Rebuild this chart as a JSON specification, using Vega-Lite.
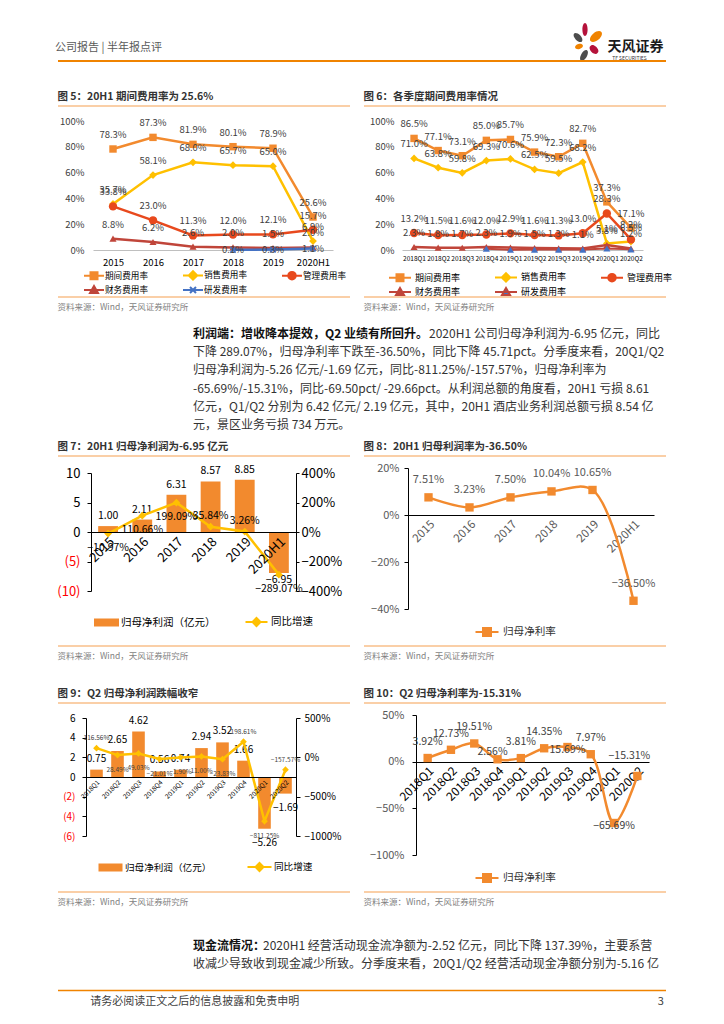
{
"$schema":"https://vega.github.io/schema/vega-lite/v6.json",
"padding":0,
"background":"white",
"config":{"font":"Noto Sans CJK SC","view":{"stroke":null},"axis":{"grid":false},"title":{"anchor":"start"}},
"datasets":{
"f5":[
{"s":"期间费用率","x":"2015","v":0.783},{"s":"期间费用率","x":"2016","v":0.873},{"s":"期间费用率","x":"2017","v":0.819},{"s":"期间费用率","x":"2018","v":0.801},{"s":"期间费用率","x":"2019","v":0.789},{"s":"期间费用率","x":"2020H1","v":0.256},
{"s":"销售费用率","x":"2015","v":0.357},{"s":"销售费用率","x":"2016","v":0.581},{"s":"销售费用率","x":"2017","v":0.680},{"s":"销售费用率","x":"2018","v":0.657},{"s":"销售费用率","x":"2019","v":0.650},{"s":"销售费用率","x":"2020H1","v":0.069},
{"s":"管理费用率","x":"2015","v":0.338},{"s":"管理费用率","x":"2016","v":0.230},{"s":"管理费用率","x":"2017","v":0.113},{"s":"管理费用率","x":"2018","v":0.120},{"s":"管理费用率","x":"2019","v":0.121},{"s":"管理费用率","x":"2020H1","v":0.157},
{"s":"财务费用率","x":"2015","v":0.088},{"s":"财务费用率","x":"2016","v":0.062},{"s":"财务费用率","x":"2017","v":0.026},{"s":"财务费用率","x":"2018","v":0.020},{"s":"财务费用率","x":"2019","v":0.015},{"s":"财务费用率","x":"2020H1","v":0.020},
{"s":"研发费用率","x":"2018","v":0.001},{"s":"研发费用率","x":"2019","v":0.003},{"s":"研发费用率","x":"2020H1","v":0.011}
],
"f6":[
{"s":"期间费用率","x":"2018Q1","v":0.865},{"s":"期间费用率","x":"2018Q2","v":0.771},{"s":"期间费用率","x":"2018Q3","v":0.731},{"s":"期间费用率","x":"2018Q4","v":0.850},{"s":"期间费用率","x":"2019Q1","v":0.857},{"s":"期间费用率","x":"2019Q2","v":0.759},{"s":"期间费用率","x":"2019Q3","v":0.723},{"s":"期间费用率","x":"2019Q4","v":0.827},{"s":"期间费用率","x":"2020Q1","v":0.373},{"s":"期间费用率","x":"2020Q2","v":0.171},
{"s":"销售费用率","x":"2018Q1","v":0.710},{"s":"销售费用率","x":"2018Q2","v":0.638},{"s":"销售费用率","x":"2018Q3","v":0.598},{"s":"销售费用率","x":"2018Q4","v":0.693},{"s":"销售费用率","x":"2019Q1","v":0.706},{"s":"销售费用率","x":"2019Q2","v":0.625},{"s":"销售费用率","x":"2019Q3","v":0.595},{"s":"销售费用率","x":"2019Q4","v":0.682},{"s":"销售费用率","x":"2020Q1","v":0.051},{"s":"销售费用率","x":"2020Q2","v":0.065},
{"s":"管理费用率","x":"2018Q1","v":0.132},{"s":"管理费用率","x":"2018Q2","v":0.115},{"s":"管理费用率","x":"2018Q3","v":0.116},{"s":"管理费用率","x":"2018Q4","v":0.120},{"s":"管理费用率","x":"2019Q1","v":0.129},{"s":"管理费用率","x":"2019Q2","v":0.116},{"s":"管理费用率","x":"2019Q3","v":0.113},{"s":"管理费用率","x":"2019Q4","v":0.130},{"s":"管理费用率","x":"2020Q1","v":0.283},{"s":"管理费用率","x":"2020Q2","v":0.082},
{"s":"财务费用率","x":"2018Q1","v":0.023},{"s":"财务费用率","x":"2018Q2","v":0.018},{"s":"财务费用率","x":"2018Q3","v":0.017},{"s":"财务费用率","x":"2018Q4","v":0.023},{"s":"财务费用率","x":"2019Q1","v":0.019},{"s":"财务费用率","x":"2019Q2","v":0.015},{"s":"财务费用率","x":"2019Q3","v":0.013},{"s":"财务费用率","x":"2019Q4","v":0.011},{"s":"财务费用率","x":"2020Q1","v":0.038},{"s":"财务费用率","x":"2020Q2","v":0.012},
{"s":"研发费用率","x":"2018Q4","v":0.010},{"s":"研发费用率","x":"2019Q1","v":0.002},{"s":"研发费用率","x":"2019Q2","v":0.003},{"s":"研发费用率","x":"2019Q3","v":0.003},{"s":"研发费用率","x":"2019Q4","v":0.003},{"s":"研发费用率","x":"2020Q1","v":0.012},{"s":"研发费用率","x":"2020Q2","v":0.005}
],
"f7":[{"x":"2015","v":1.00,"g":-0.1097},{"x":"2016","v":2.11,"g":1.1066},{"x":"2017","v":6.31,"g":1.9909},{"x":"2018","v":8.57,"g":0.3584},{"x":"2019","v":8.85,"g":0.0326},{"x":"2020H1","v":-6.95,"g":-2.8907}],
"f8":[{"x":"2015","v":0.0751},{"x":"2016","v":0.0323},{"x":"2017","v":0.0750},{"x":"2018","v":0.1004},{"x":"2019","v":0.1065},{"x":"2020H1","v":-0.3650}],
"f9":[{"x":"2018Q1","v":0.75,"g":1.1656},{"x":"2018Q2","v":2.65,"g":0.2849},{"x":"2018Q3","v":4.62,"g":0.4903},{"x":"2018Q4","v":0.56,"g":-0.2101},{"x":"2019Q1","v":0.74,"g":-0.0190},{"x":"2019Q2","v":2.94,"g":0.1100},{"x":"2019Q3","v":3.52,"g":-0.2383},{"x":"2019Q4","v":1.66,"g":1.9861},{"x":"2020Q1","v":-5.26,"g":-8.1125},{"x":"2020Q2","v":-1.69,"g":-1.5757}],
"f10":[{"x":"2018Q1","v":0.0392},{"x":"2018Q2","v":0.1273},{"x":"2018Q3","v":0.1951},{"x":"2018Q4","v":0.0256},{"x":"2019Q1","v":0.0381},{"x":"2019Q2","v":0.1435},{"x":"2019Q3","v":0.1569},{"x":"2019Q4","v":0.0797},{"x":"2020Q1","v":-0.6569},{"x":"2020Q2","v":-0.1531}],
"p1b":[{"n":1,"t":"利润端：增收降本提效，Q2 业绩有所回升。"}],
"p1":[{"n":1,"t":"2020H1 公司归母净利润为-6.95 亿元，同比"},{"n":2,"t":"下降 289.07%，归母净利率下跌至-36.50%，同比下降 45.71pct。分季度来看，20Q1/Q2"},{"n":3,"t":"归母净利润为-5.26  亿元/-1.69  亿元，同比-811.25%/-157.57%，归母净利率为"},{"n":4,"t":"-65.69%/-15.31%，同比-69.50pct/ -29.66pct。从利润总额的角度看，20H1 亏损 8.61"},{"n":5,"t":"亿元，Q1/Q2 分别为 6.42 亿元/ 2.19 亿元，其中，20H1 酒店业务利润总额亏损 8.54 亿"},{"n":6,"t":"元，景区业务亏损 734 万元。"}],
"p2b":[{"n":1,"t":"现金流情况："}],
"p2":[{"n":1,"t":"2020H1 经营活动现金流净额为-2.52 亿元，同比下降 137.39%，主要系营"},{"n":2,"t":"收减少导致收到现金减少所致。分季度来看，20Q1/Q2 经营活动现金净额分别为-5.16 亿"}]
},
"spacing":0,"bounds":"flush",
"resolve":{"scale":{"fill":"independent","stroke":"independent","shape":"independent"}},
"hconcat":[
{"width":57,"height":1024,"data":{"values":[{}]},"mark":{"type":"rule","opacity":0},"encoding":{}},
{"spacing":0,"bounds":"flush","resolve":{"scale":{"fill":"independent","stroke":"independent","shape":"independent"}},"vconcat":[
 {"width":608,"height":20,"data":{"values":[{}]},"mark":{"type":"rule","opacity":0},"encoding":{}},
 {"spacing":0,"bounds":"flush","hconcat":[
  {"width":513,"height":40,"data":{"values":[{}]},"mark":{"type":"rule","opacity":0},"encoding":{}},
  {"width":95,"height":40,"data":{"values":[{}]},"layer":[
   {"mark":{"type":"point","shape":"M-33.5,-18A2.6,6.5,0,1,0,-33.5,-5A2.6,6.5,0,1,0,-33.5,-18Z M-28,5A5,3,45,1,0,-21,12A5,3,45,1,0,-28,5Z","size":4,"filled":true,"color":"#B5123A","opacity":1},"encoding":{}},
   {"mark":{"type":"point","shape":"M-44.4,-7.4A5.5,3,45,1,0,-36.6,0.4A5.5,3,45,1,0,-44.4,-7.4Z M-37.5,19.7A6,3,-60,1,0,-31.5,9.3A6,3,-60,1,0,-37.5,19.7Z","size":4,"filled":true,"color":"#4D4D4D","opacity":1},"encoding":{}},
   {"mark":{"type":"point","shape":"M-27.9,0A7,4,-40,1,0,-17.1,-9A7,4,-40,1,0,-27.9,0Z M-43.4,6.5A4,2.5,-15,1,0,-35.6,4.5A4,2.5,-15,1,0,-43.4,6.5Z","size":4,"filled":true,"color":"#F08300","opacity":1},"encoding":{}},
   {"mark":{"type":"text","text":"天风证券","dx":17,"dy":6,"fontSize":14,"fontWeight":"bold","color":"#1A1A1A"},"encoding":{}},
   {"mark":{"type":"text","text":"TF SECURITIES","dx":11,"dy":17,"fontSize":5,"color":"#333333"},"encoding":{}}
  ]}
 ]},
 {"width":608,"height":40,"data":{"values":[{}]},"mark":{"type":"rule","opacity":0},"encoding":{}},
 {"width":608,"height":45,"data":{"values":[{}]},"mark":{"type":"rule","color":"#F08300","strokeWidth":2},"encoding":{"y":{"datum":1,"type":"quantitative","scale":{"domain":[0,1]},"axis":null}},"title":{"text":"公司报告 | 半年报点评","orient":"top","anchor":"start","offset":7,"dx":-2,"fontSize":11,"fontWeight":"normal","color":"#595959"}},
 {"spacing":0,"bounds":"flush","resolve":{"scale":{"fill":"independent","stroke":"independent","shape":"independent"}},"hconcat":[
  {"spacing":0,"bounds":"flush","resolve":{"scale":{"fill":"independent","stroke":"independent","shape":"independent"}},"vconcat":[
   {"width":292,"height":15,"data":{"values":[{}]},"mark":{"type":"rule","color":"#F5A050","strokeWidth":1.2},"encoding":{"y":{"datum":1,"type":"quantitative","scale":{"domain":[0,1]},"axis":null}},"title":{"text":"图 5：20H1 期间费用率为 25.6%","orient":"top","anchor":"start","offset":3,"fontSize":10.5,"fontWeight":"bold","color":"#333333"}},
   {"spacing":0,"bounds":"flush","resolve":{"scale":{"fill":"independent","stroke":"independent","shape":"independent"}},"hconcat":[
    {"width":35,"height":129,"data":{"values":[{}]},"mark":{"type":"rule","opacity":0},"encoding":{}},
    {"width":240,"height":129,"data":{"name":"f5"},
     "encoding":{
      "x":{"field":"x","type":"nominal","scale":{"domain":["2015","2016","2017","2018","2019","2020H1"]},"axis":{"title":null,"labelAngle":0,"labelFontSize":9.5,"labelColor":"#000000","domainColor":"#BFBFBF","ticks":false,"labelPadding":7}},
      "y":{"field":"v","type":"quantitative","scale":{"domain":[0,1],"nice":false},"axis":{"title":null,"values":[0,0.2,0.4,0.6,0.8,1],"format":".0%","domain":false,"ticks":false,"labelPadding":9,"labelFontSize":9.5,"labelColor":"#404040"}}
     },
     "layer":[
      {"transform":[{"filter":"datum.s==='期间费用率'"}],"mark":{"type":"line","color":"#F28A2E","strokeWidth":2.5,"point":{"shape":"square","filled":true,"size":55,"color":"#F28A2E","opacity":1}}},
      {"transform":[{"filter":"datum.s==='销售费用率'"}],"mark":{"type":"line","color":"#FFC000","strokeWidth":2.5,"point":{"shape":"diamond","filled":true,"size":60,"color":"#FFC000","opacity":1}}},
      {"transform":[{"filter":"datum.s==='管理费用率'"}],"mark":{"type":"line","color":"#E8491D","strokeWidth":2.5,"point":{"shape":"circle","filled":true,"size":70,"color":"#E8491D","opacity":1}}},
      {"transform":[{"filter":"datum.s==='财务费用率'"}],"mark":{"type":"line","color":"#C0453A","strokeWidth":2.5,"point":{"shape":"triangle-up","filled":true,"size":50,"color":"#C0453A","opacity":1}}},
      {"transform":[{"filter":"datum.s==='研发费用率'"}],"mark":{"type":"line","color":"#4472C4","strokeWidth":2.5,"point":{"shape":"M-1,-1L1,1M-1,1L1,-1","filled":false,"size":30,"strokeWidth":1.5,"color":"#4472C4","opacity":1}}},
      {"transform":[{"filter":"datum.s!=='研发费用率'"}],"mark":{"type":"text","dy":-14,"fontSize":9.5,"color":"#404040"},"encoding":{"text":{"field":"v","format":".1%"}}},
      {"transform":[{"filter":"datum.s==='研发费用率'"}],"mark":{"type":"text","dy":0,"fontSize":9.5,"color":"#404040"},"encoding":{"text":{"field":"v","format":".1%"}}},
      {"data":{"values":[]},"mark":{"type":"point","strokeWidth":2,"opacity":1},"encoding":{
       "fill":{"field":"s","type":"nominal","scale":{"domain":["期间费用率","销售费用率","管理费用率","财务费用率","研发费用率"],"range":["#F28A2E","#FFC000","#E8491D","#C0453A","#4472C4"]},"legend":{"title":null,"orient":"none","direction":"horizontal","legendX":-5,"legendY":148,"columns":3,"columnPadding":31,"rowPadding":-12,"symbolSize":100,"symbolStrokeWidth":2,"labelFontSize":8.6,"labelOffset":5,"labelColor":"#000000"}},
       "stroke":{"field":"s","type":"nominal","scale":{"domain":["期间费用率","销售费用率","管理费用率","财务费用率","研发费用率"],"range":["#F28A2E","#FFC000","#E8491D","#C0453A","#4472C4"]},"legend":{"title":null,"orient":"none","direction":"horizontal","legendX":-5,"legendY":148,"columns":3,"columnPadding":31,"rowPadding":-12,"symbolSize":100,"symbolStrokeWidth":2,"labelFontSize":8.6,"labelOffset":5,"labelColor":"#000000"}},
       "shape":{"field":"s","type":"nominal","scale":{"domain":["期间费用率","销售费用率","管理费用率","财务费用率","研发费用率"],"range":["M-2,0H2M-0.7,-0.7H0.7V0.7H-0.7Z","M-2,0H2M0,-0.85L0.85,0L0,0.85L-0.85,0Z","M-2,0H2M-0.75,0A0.75,0.75,0,1,0,0.75,0A0.75,0.75,0,1,0,-0.75,0Z","M-2,0H2M0,-0.8L0.8,0.6L-0.8,0.6Z","M-2,0H2M-0.6,-0.6L0.6,0.6M-0.6,0.6L0.6,-0.6"]},"legend":{"title":null,"orient":"none","direction":"horizontal","legendX":-5,"legendY":148,"columns":3,"columnPadding":31,"rowPadding":-12,"symbolSize":100,"symbolStrokeWidth":2,"labelFontSize":8.6,"labelOffset":5,"labelColor":"#000000"}}
      }}
     ]}
   ]},
   {"width":292,"height":129,"data":{"values":[{}]},"mark":{"type":"rule","opacity":0},"encoding":{}},
   {"width":292,"height":47,"data":{"values":[{}]},"mark":{"type":"rule","color":"#F5A050","strokeWidth":1.2},"encoding":{"y":{"datum":0,"type":"quantitative","scale":{"domain":[0,1]},"axis":null}},"title":{"text":"资料来源：Wind，天风证券研究所","orient":"bottom","anchor":"start","offset":5,"fontSize":8.5,"fontWeight":"normal","color":"#7F7F7F"}}
  ]},
  {"width":306,"height":1,"data":{"values":[{}]},"mark":{"type":"rule","opacity":0},"encoding":{}},
  {"spacing":0,"bounds":"flush","resolve":{"scale":{"fill":"independent","stroke":"independent","shape":"independent"}},"vconcat":[
   {"width":302,"height":15,"data":{"values":[{}]},"mark":{"type":"rule","color":"#F5A050","strokeWidth":1.2},"encoding":{"y":{"datum":1,"type":"quantitative","scale":{"domain":[0,1]},"axis":null}},"title":{"text":"图 6：各季度期间费用率情况","orient":"top","anchor":"start","offset":3,"fontSize":10.5,"fontWeight":"bold","color":"#333333"}},
   {"spacing":0,"bounds":"flush","resolve":{"scale":{"fill":"independent","stroke":"independent","shape":"independent"}},"hconcat":[
    {"width":38,"height":129,"data":{"values":[{}]},"mark":{"type":"rule","opacity":0},"encoding":{}},
    {"width":241,"height":129,"data":{"name":"f6"},
     "encoding":{
      "x":{"field":"x","type":"nominal","scale":{"domain":["2018Q1","2018Q2","2018Q3","2018Q4","2019Q1","2019Q2","2019Q3","2019Q4","2020Q1","2020Q2"]},"axis":{"title":null,"labelAngle":0,"labelFontSize":6.5,"labelColor":"#000000","domainColor":"#BFBFBF","ticks":false,"labelPadding":5}},
      "y":{"field":"v","type":"quantitative","scale":{"domain":[0,1],"nice":false},"axis":{"title":null,"values":[0,0.2,0.4,0.6,0.8,1],"format":".0%","domain":false,"ticks":false,"labelPadding":8,"labelFontSize":9.5,"labelColor":"#404040"}}
     },
     "layer":[
      {"transform":[{"filter":"datum.s==='期间费用率'"}],"mark":{"type":"line","color":"#F28A2E","strokeWidth":2.5,"point":{"shape":"square","filled":true,"size":55,"color":"#F28A2E","opacity":1}}},
      {"transform":[{"filter":"datum.s==='销售费用率'"}],"mark":{"type":"line","color":"#FFC000","strokeWidth":2.5,"point":{"shape":"diamond","filled":true,"size":60,"color":"#FFC000","opacity":1}}},
      {"transform":[{"filter":"datum.s==='管理费用率'"}],"mark":{"type":"line","color":"#E8491D","strokeWidth":2.5,"point":{"shape":"circle","filled":true,"size":70,"color":"#E8491D","opacity":1}}},
      {"transform":[{"filter":"datum.s==='财务费用率'"}],"mark":{"type":"line","color":"#C0453A","strokeWidth":2.5,"point":{"shape":"triangle-up","filled":true,"size":50,"color":"#C0453A","opacity":1}}},
      {"transform":[{"filter":"datum.s==='研发费用率'"}],"mark":{"type":"line","color":"#C0453A","strokeWidth":2,"point":{"shape":"triangle-up","filled":true,"size":50,"color":"#4472C4","opacity":1}}},
      {"transform":[{"filter":"datum.s!=='研发费用率'"}],"mark":{"type":"text","dy":-14,"fontSize":9.5,"color":"#404040"},"encoding":{"text":{"field":"v","format":".1%"}}},
      {"data":{"values":[]},"mark":{"type":"point","strokeWidth":2,"opacity":1},"encoding":{
       "fill":{"field":"s","type":"nominal","scale":{"domain":["期间费用率","销售费用率","管理费用率","财务费用率","研发费用率"],"range":["#F28A2E","#FFC000","#E8491D","#C0453A","#4472C4"]},"legend":{"title":null,"orient":"none","direction":"horizontal","legendX":-8,"legendY":150,"columns":3,"columnPadding":30,"rowPadding":-13,"symbolSize":100,"symbolStrokeWidth":2,"labelFontSize":9,"labelOffset":9,"labelColor":"#000000"}},
       "stroke":{"field":"s","type":"nominal","scale":{"domain":["期间费用率","销售费用率","管理费用率","财务费用率","研发费用率"],"range":["#F28A2E","#FFC000","#E8491D","#C0453A","#C0453A"]},"legend":{"title":null,"orient":"none","direction":"horizontal","legendX":-8,"legendY":150,"columns":3,"columnPadding":30,"rowPadding":-13,"symbolSize":100,"symbolStrokeWidth":2,"labelFontSize":9,"labelOffset":9,"labelColor":"#000000"}},
       "shape":{"field":"s","type":"nominal","scale":{"domain":["期间费用率","销售费用率","管理费用率","财务费用率","研发费用率"],"range":["M-2.2,0H2.2M-0.7,-0.7H0.7V0.7H-0.7Z","M-2.2,0H2.2M0,-0.85L0.85,0L0,0.85L-0.85,0Z","M-2.2,0H2.2M-0.75,0A0.75,0.75,0,1,0,0.75,0A0.75,0.75,0,1,0,-0.75,0Z","M-2.2,0H2.2M0,-0.8L0.8,0.6L-0.8,0.6Z","M-2.2,0H2.2M0,-0.8L0.8,0.6L-0.8,0.6Z"]},"legend":{"title":null,"orient":"none","direction":"horizontal","legendX":-8,"legendY":150,"columns":3,"columnPadding":30,"rowPadding":-13,"symbolSize":100,"symbolStrokeWidth":2,"labelFontSize":9,"labelOffset":9,"labelColor":"#000000"}}
      }}
     ]}
   ]},
   {"width":302,"height":129,"data":{"values":[{}]},"mark":{"type":"rule","opacity":0},"encoding":{}},
   {"width":302,"height":47,"data":{"values":[{}]},"mark":{"type":"rule","color":"#F5A050","strokeWidth":1.2},"encoding":{"y":{"datum":0,"type":"quantitative","scale":{"domain":[0,1]},"axis":null}},"title":{"text":"资料来源：Wind，天风证券研究所","orient":"bottom","anchor":"start","offset":5,"fontSize":8.5,"fontWeight":"normal","color":"#7F7F7F"}}
  ]}
 ]},
 {"width":608,"height":219,"data":{"values":[{}]},"mark":{"type":"rule","opacity":0},"encoding":{}},
 {"spacing":0,"bounds":"flush","hconcat":[
  {"width":135,"height":109,"data":{"values":[{}]},"mark":{"type":"rule","opacity":0},"encoding":{}},
  {"width":473,"height":109,"data":{"name":"p1"},
   "encoding":{"y":{"field":"n","type":"ordinal","scale":{"domain":[1,2,3,4,5,6]},"axis":null},"x":{"datum":0,"type":"quantitative","scale":{"domain":[0,1]},"axis":null}},
   "layer":[
    {"data":{"name":"p1b"},"mark":{"type":"text","align":"left","fontWeight":"bold","fontSize":12,"color":"#111111"},"encoding":{"text":{"field":"t"}}},
    {"transform":[{"filter":"datum.n===1"}],"mark":{"type":"text","align":"left","dx":236,"fontSize":12,"color":"#333333"},"encoding":{"text":{"field":"t"}}},
    {"transform":[{"filter":"datum.n>1"}],"mark":{"type":"text","align":"left","fontSize":12,"color":"#333333"},"encoding":{"text":{"field":"t"}}}
   ]}
 ]},
 {"width":608,"height":131,"data":{"values":[{}]},"mark":{"type":"rule","opacity":0},"encoding":{}},
 {"spacing":0,"bounds":"flush","resolve":{"scale":{"fill":"independent","stroke":"independent","shape":"independent"}},"hconcat":[
  {"spacing":0,"bounds":"flush","resolve":{"scale":{"fill":"independent","stroke":"independent","shape":"independent"}},"vconcat":[
   {"width":292,"height":17,"data":{"values":[{}]},"mark":{"type":"rule","color":"#F5A050","strokeWidth":1.2},"encoding":{"y":{"datum":1,"type":"quantitative","scale":{"domain":[0,1]},"axis":null}},"title":{"text":"图 7：20H1 归母净利润为-6.95 亿元","orient":"top","anchor":"start","offset":3,"fontSize":10.5,"fontWeight":"bold","color":"#333333"}},
   {"spacing":0,"bounds":"flush","resolve":{"scale":{"fill":"independent","stroke":"independent","shape":"independent"}},"hconcat":[
    {"width":33,"height":118,"data":{"values":[{}]},"mark":{"type":"rule","opacity":0},"encoding":{}},
    {"width":205,"height":118,"data":{"name":"f7"},
     "encoding":{"x":{"field":"x","type":"nominal","scale":{"domain":["2015","2016","2017","2018","2019","2020H1"],"paddingInner":0.42,"paddingOuter":0.21},"axis":{"title":null,"offset":-59,"labelAngle":-45,"labelFontSize":13,"labelColor":"#000000","domainColor":"#000000","ticks":false,"labelPadding":3,"zindex":1}}},
     "layer":[
      {"encoding":{"y":{"field":"v","type":"quantitative","scale":{"domain":[-10,10],"nice":false},"axis":{"title":null,"values":[-10,-5,0,5,10],"labelExpr":"datum.value < 0 ? '(' + format(-datum.value,'d') + ')' : datum.label","labelColor":{"condition":{"test":"datum.value < 0","value":"#FF0000"},"value":"#000000"},"domainColor":"#000000","tickColor":"#000000","tickSize":4,"labelPadding":7,"labelFontSize":13}}},
       "layer":[
        {"mark":{"type":"bar","color":"#F28A2E"}},
        {"transform":[{"filter":"datum.v >= 0"}],"mark":{"type":"text","baseline":"bottom","dy":-5,"fontSize":10.5,"color":"#000000"},"encoding":{"text":{"field":"v","format":".2f"}}},
        {"transform":[{"filter":"datum.v < 0"}],"mark":{"type":"text","baseline":"top","dy":2,"fontSize":10.5,"color":"#000000"},"encoding":{"text":{"field":"v","format":".2f"}}},
        {"data":{"values":[]},"mark":{"type":"point","strokeWidth":2,"opacity":1},"encoding":{
         "fill":{"field":"s","type":"nominal","scale":{"domain":["归母净利润（亿元）","同比增速"],"range":["#F28A2E","#FFC000"]},"legend":{"title":null,"orient":"none","direction":"horizontal","legendX":9.5,"legendY":143,"columns":2,"columnPadding":26,"symbolSize":100,"symbolStrokeWidth":2,"labelFontSize":10.5,"labelOffset":8.5,"labelColor":"#000000"}},
         "stroke":{"field":"s","type":"nominal","scale":{"domain":["归母净利润（亿元）","同比增速"],"range":["#F28A2E","#FFC000"]},"legend":{"title":null,"orient":"none","direction":"horizontal","legendX":9.5,"legendY":143,"columns":2,"columnPadding":26,"symbolSize":100,"symbolStrokeWidth":2,"labelFontSize":10.5,"labelOffset":8.5,"labelColor":"#000000"}},
         "shape":{"field":"s","type":"nominal","scale":{"domain":["归母净利润（亿元）","同比增速"],"range":["M-2.3,-0.6H2.3V0.6H-2.3Z","M-2.2,0H2.2M0,-0.8L0.8,0L0,0.8L-0.8,0Z"]},"legend":{"title":null,"orient":"none","direction":"horizontal","legendX":9.5,"legendY":143,"columns":2,"columnPadding":26,"symbolSize":100,"symbolStrokeWidth":2,"labelFontSize":10.5,"labelOffset":8.5,"labelColor":"#000000"}}
        }}
       ]},
      {"encoding":{"y":{"field":"g","type":"quantitative","scale":{"domain":[-4,4],"nice":false},"axis":{"title":null,"orient":"right","values":[-4,-2,0,2,4],"format":".0%","domainColor":"#000000","tickColor":"#000000","tickSize":3,"labelPadding":2,"labelFontSize":13,"labelColor":"#000000"}}},
       "layer":[
        {"mark":{"type":"line","color":"#FFC000","strokeWidth":2.5,"point":{"shape":"diamond","filled":true,"size":60,"color":"#FFC000","opacity":1}}},
        {"transform":[{"filter":"indexof(['2018','2019'], datum.x) >= 0"}],"mark":{"type":"text","dy":-11,"fontSize":10.5,"color":"#000000"},"encoding":{"text":{"field":"g","format":".2%"}}},
        {"transform":[{"filter":"indexof(['2018','2019'], datum.x) < 0"}],"mark":{"type":"text","dy":14,"fontSize":10.5,"color":"#000000"},"encoding":{"text":{"field":"g","format":".2%"}}}
       ]}
     ],
     "resolve":{"scale":{"y":"independent"}}}
   ]},
   {"width":292,"height":118,"data":{"values":[{}]},"mark":{"type":"rule","opacity":0},"encoding":{}},
   {"width":292,"height":55,"data":{"values":[{}]},"mark":{"type":"rule","color":"#F5A050","strokeWidth":1.2},"encoding":{"y":{"datum":0,"type":"quantitative","scale":{"domain":[0,1]},"axis":null}},"title":{"text":"资料来源：Wind，天风证券研究所","orient":"bottom","anchor":"start","offset":5,"fontSize":8.5,"fontWeight":"normal","color":"#7F7F7F"}}
  ]},
  {"width":306,"height":1,"data":{"values":[{}]},"mark":{"type":"rule","opacity":0},"encoding":{}},
  {"spacing":0,"bounds":"flush","resolve":{"scale":{"fill":"independent","stroke":"independent","shape":"independent"}},"vconcat":[
   {"width":302,"height":12,"data":{"values":[{}]},"mark":{"type":"rule","color":"#F5A050","strokeWidth":1.2},"encoding":{"y":{"datum":1,"type":"quantitative","scale":{"domain":[0,1]},"axis":null}},"title":{"text":"图 8：20H1 归母利润率为-36.50%","orient":"top","anchor":"start","offset":3,"fontSize":10.5,"fontWeight":"bold","color":"#333333"}},
   {"spacing":0,"bounds":"flush","resolve":{"scale":{"fill":"independent","stroke":"independent","shape":"independent"}},"hconcat":[
    {"width":44,"height":141,"data":{"values":[{}]},"mark":{"type":"rule","opacity":0},"encoding":{}},
    {"width":246,"height":141,"data":{"name":"f8"},
     "encoding":{
      "x":{"field":"x","type":"nominal","scale":{"domain":["2015","2016","2017","2018","2019","2020H1"]},"axis":{"title":null,"offset":-94,"labelAngle":-45,"labelFontSize":11.5,"labelColor":"#595959","domainColor":"#000000","ticks":false,"labelPadding":3}},
      "y":{"field":"v","type":"quantitative","scale":{"domain":[-0.4,0.2],"nice":false},"axis":{"title":null,"values":[-0.4,-0.2,0,0.2],"format":".0%","domainColor":"#000000","tickColor":"#000000","tickSize":4,"labelPadding":5,"labelFontSize":11,"labelColor":"#595959"}}
     },
     "layer":[
      {"mark":{"type":"line","color":"#F28A2E","strokeWidth":2.5,"interpolate":"catmull-rom","point":{"shape":"square","filled":true,"size":70,"color":"#F28A2E","opacity":1}}},
      {"mark":{"type":"text","dy":-17,"fontSize":11,"color":"#595959"},"encoding":{"text":{"field":"v","format":".2%"}}},
      {"data":{"values":[]},"mark":{"type":"point","strokeWidth":2,"opacity":1},"encoding":{
       "fill":{"field":"s","type":"nominal","scale":{"domain":["归母净利率"],"range":["#F28A2E"]},"legend":{"title":null,"orient":"none","legendX":73,"legendY":158,"symbolSize":100,"symbolStrokeWidth":2,"labelFontSize":10.6,"labelOffset":10,"labelColor":"#333333"}},
       "stroke":{"field":"s","type":"nominal","scale":{"domain":["归母净利率"],"range":["#F28A2E"]},"legend":{"title":null,"orient":"none","legendX":73,"legendY":158,"symbolSize":100,"symbolStrokeWidth":2,"labelFontSize":10.6,"labelOffset":10,"labelColor":"#333333"}},
       "shape":{"field":"s","type":"nominal","scale":{"domain":["归母净利率"],"range":["M-2.3,0H2.3M-0.8,-0.8H0.8V0.8H-0.8Z"]},"legend":{"title":null,"orient":"none","legendX":73,"legendY":158,"symbolSize":100,"symbolStrokeWidth":2,"labelFontSize":10.6,"labelOffset":10,"labelColor":"#333333"}}
      }}
     ]}
   ]},
   {"width":302,"height":141,"data":{"values":[{}]},"mark":{"type":"rule","opacity":0},"encoding":{}},
   {"width":302,"height":37,"data":{"values":[{}]},"mark":{"type":"rule","color":"#F5A050","strokeWidth":1.2},"encoding":{"y":{"datum":0,"type":"quantitative","scale":{"domain":[0,1]},"axis":null}},"title":{"text":"资料来源：Wind，天风证券研究所","orient":"bottom","anchor":"start","offset":5,"fontSize":8.5,"fontWeight":"normal","color":"#7F7F7F"}}
  ]}
 ]},
 {"width":608,"height":247,"data":{"values":[{}]},"mark":{"type":"rule","opacity":0},"encoding":{}},
 {"spacing":0,"bounds":"flush","resolve":{"scale":{"fill":"independent","stroke":"independent","shape":"independent"}},"hconcat":[
  {"spacing":0,"bounds":"flush","resolve":{"scale":{"fill":"independent","stroke":"independent","shape":"independent"}},"vconcat":[
   {"width":292,"height":15,"data":{"values":[{}]},"mark":{"type":"rule","color":"#F5A050","strokeWidth":1.2},"encoding":{"y":{"datum":1,"type":"quantitative","scale":{"domain":[0,1]},"axis":null}},"title":{"text":"图 9：Q2 归母净利润跌幅收窄","orient":"top","anchor":"start","offset":3,"fontSize":10.5,"fontWeight":"bold","color":"#333333"}},
   {"spacing":0,"bounds":"flush","resolve":{"scale":{"fill":"independent","stroke":"independent","shape":"independent"}},"hconcat":[
    {"width":28,"height":118,"data":{"values":[{}]},"mark":{"type":"rule","opacity":0},"encoding":{}},
    {"width":210,"height":118,"data":{"name":"f9"},
     "encoding":{"x":{"field":"x","type":"nominal","scale":{"domain":["2018Q1","2018Q2","2018Q3","2018Q4","2019Q1","2019Q2","2019Q3","2019Q4","2020Q1","2020Q2"],"paddingInner":0.4,"paddingOuter":0.2},"axis":{"title":null,"offset":-59,"labelAngle":-45,"labelFontSize":6.5,"labelColor":"#000000","domainColor":"#000000","ticks":false,"labelPadding":2,"zindex":1}}},
     "layer":[
      {"encoding":{"y":{"field":"v","type":"quantitative","scale":{"domain":[-6,6],"nice":false},"axis":{"title":null,"values":[-6,-4,-2,0,2,4,6],"labelExpr":"datum.value < 0 ? '(' + format(-datum.value,'d') + ')' : datum.label","labelColor":{"condition":{"test":"datum.value < 0","value":"#FF0000"},"value":"#000000"},"domainColor":"#000000","tickColor":"#000000","tickSize":4,"labelPadding":7,"labelFontSize":10}}},
       "layer":[
        {"mark":{"type":"bar","color":"#F28A2E"}},
        {"transform":[{"filter":"datum.v >= 0"}],"mark":{"type":"text","baseline":"bottom","dy":-6,"fontSize":10,"color":"#000000"},"encoding":{"text":{"field":"v","format":".2f"}}},
        {"transform":[{"filter":"datum.v < 0"}],"mark":{"type":"text","baseline":"top","dy":9,"fontSize":10,"color":"#000000"},"encoding":{"text":{"field":"v","format":".2f"}}},
        {"data":{"values":[]},"mark":{"type":"point","strokeWidth":2,"opacity":1},"encoding":{
         "fill":{"field":"s","type":"nominal","scale":{"domain":["归母净利润（亿元）","同比增速"],"range":["#F28A2E","#FFC000"]},"legend":{"title":null,"orient":"none","direction":"horizontal","legendX":18.5,"legendY":143,"columns":2,"columnPadding":32,"symbolSize":100,"symbolStrokeWidth":2,"labelFontSize":9.6,"labelOffset":8.5,"labelColor":"#000000"}},
         "stroke":{"field":"s","type":"nominal","scale":{"domain":["归母净利润（亿元）","同比增速"],"range":["#F28A2E","#FFC000"]},"legend":{"title":null,"orient":"none","direction":"horizontal","legendX":18.5,"legendY":143,"columns":2,"columnPadding":32,"symbolSize":100,"symbolStrokeWidth":2,"labelFontSize":9.6,"labelOffset":8.5,"labelColor":"#000000"}},
         "shape":{"field":"s","type":"nominal","scale":{"domain":["归母净利润（亿元）","同比增速"],"range":["M-2.2,-0.6H2.2V0.6H-2.2Z","M-2.4,0H2.4M0,-0.8L0.8,0L0,0.8L-0.8,0Z"]},"legend":{"title":null,"orient":"none","direction":"horizontal","legendX":18.5,"legendY":143,"columns":2,"columnPadding":32,"symbolSize":100,"symbolStrokeWidth":2,"labelFontSize":9.6,"labelOffset":8.5,"labelColor":"#000000"}}
        }}
       ]},
      {"encoding":{"y":{"field":"g","type":"quantitative","scale":{"domain":[-10,5],"nice":false},"axis":{"title":null,"orient":"right","values":[-10,-5,0,5],"format":".0%","domainColor":"#000000","tickColor":"#000000","tickSize":4,"labelPadding":4,"labelFontSize":10,"labelColor":"#000000"}}},
       "layer":[
        {"mark":{"type":"line","color":"#FFC000","strokeWidth":2.5,"point":{"shape":"diamond","filled":true,"size":45,"color":"#FFC000","opacity":1}}},
        {"transform":[{"filter":"indexof(['2018Q1','2019Q4','2020Q2'], datum.x) >= 0"}],"mark":{"type":"text","dy":-10,"fontSize":6.5,"color":"#404040"},"encoding":{"text":{"field":"g","format":".2%"}}},
        {"transform":[{"filter":"indexof(['2018Q1','2019Q4','2020Q2'], datum.x) < 0"}],"mark":{"type":"text","dy":15,"fontSize":6.5,"color":"#404040"},"encoding":{"text":{"field":"g","format":".2%"}}}
       ]}
     ],
     "resolve":{"scale":{"y":"independent"}}}
   ]},
   {"width":292,"height":118,"data":{"values":[{}]},"mark":{"type":"rule","opacity":0},"encoding":{}},
   {"width":292,"height":56,"data":{"values":[{}]},"mark":{"type":"rule","color":"#F5A050","strokeWidth":1.2},"encoding":{"y":{"datum":0,"type":"quantitative","scale":{"domain":[0,1]},"axis":null}},"title":{"text":"资料来源：Wind，天风证券研究所","orient":"bottom","anchor":"start","offset":5,"fontSize":8.5,"fontWeight":"normal","color":"#7F7F7F"}}
  ]},
  {"width":306,"height":1,"data":{"values":[{}]},"mark":{"type":"rule","opacity":0},"encoding":{}},
  {"spacing":0,"bounds":"flush","resolve":{"scale":{"fill":"independent","stroke":"independent","shape":"independent"}},"vconcat":[
   {"width":302,"height":12,"data":{"values":[{}]},"mark":{"type":"rule","color":"#F5A050","strokeWidth":1.2},"encoding":{"y":{"datum":1,"type":"quantitative","scale":{"domain":[0,1]},"axis":null}},"title":{"text":"图 10：Q2 归母净利率为-15.31%","orient":"top","anchor":"start","offset":3,"fontSize":10.5,"fontWeight":"bold","color":"#333333"}},
   {"spacing":0,"bounds":"flush","resolve":{"scale":{"fill":"independent","stroke":"independent","shape":"independent"}},"hconcat":[
    {"width":52,"height":140,"data":{"values":[{}]},"mark":{"type":"rule","opacity":0},"encoding":{}},
    {"width":233,"height":140,"data":{"name":"f10"},
     "encoding":{
      "x":{"field":"x","type":"nominal","scale":{"domain":["2018Q1","2018Q2","2018Q3","2018Q4","2019Q1","2019Q2","2019Q3","2019Q4","2020Q1","2020Q2"]},"axis":{"title":null,"offset":-93,"labelAngle":-45,"labelFontSize":12,"labelColor":"#000000","domainColor":"#000000","ticks":false,"labelPadding":3}},
      "y":{"field":"v","type":"quantitative","scale":{"domain":[-1,0.5],"nice":false},"axis":{"title":null,"values":[-1,-0.5,0,0.5],"format":".0%","domainColor":"#000000","tickColor":"#000000","tickSize":4,"labelPadding":8,"labelFontSize":11,"labelColor":"#595959"}}
     },
     "layer":[
      {"mark":{"type":"line","color":"#F28A2E","strokeWidth":2.5,"interpolate":"catmull-rom","point":{"shape":"square","filled":true,"size":70,"color":"#F28A2E","opacity":1}}},
      {"transform":[{"filter":"indexof(['2018Q4','2019Q3','2020Q1','2020Q2'], datum.x) < 0"}],"mark":{"type":"text","dy":-16,"fontSize":10.5,"color":"#404040"},"encoding":{"text":{"field":"v","format":".2%"}}},
      {"transform":[{"filter":"datum.x === '2018Q4'"}],"mark":{"type":"text","dy":-7,"dx":-5,"fontSize":10.5,"color":"#404040"},"encoding":{"text":{"field":"v","format":".2%"}}},
      {"transform":[{"filter":"indexof(['2019Q3','2020Q1'], datum.x) >= 0"}],"mark":{"type":"text","dy":3,"fontSize":10.5,"color":"#404040"},"encoding":{"text":{"field":"v","format":".2%"}}},
      {"transform":[{"filter":"datum.x === '2020Q2'"}],"mark":{"type":"text","dy":-20,"dx":-8,"fontSize":10.5,"color":"#404040"},"encoding":{"text":{"field":"v","format":".2%"}}},
      {"data":{"values":[]},"mark":{"type":"point","strokeWidth":2,"opacity":1},"encoding":{
       "fill":{"field":"s","type":"nominal","scale":{"domain":["归母净利率"],"range":["#F28A2E"]},"legend":{"title":null,"orient":"none","legendX":65,"legendY":157,"symbolSize":100,"symbolStrokeWidth":2,"labelFontSize":10.6,"labelOffset":10,"labelColor":"#333333"}},
       "stroke":{"field":"s","type":"nominal","scale":{"domain":["归母净利率"],"range":["#F28A2E"]},"legend":{"title":null,"orient":"none","legendX":65,"legendY":157,"symbolSize":100,"symbolStrokeWidth":2,"labelFontSize":10.6,"labelOffset":10,"labelColor":"#333333"}},
       "shape":{"field":"s","type":"nominal","scale":{"domain":["归母净利率"],"range":["M-2.3,0H2.3M-0.8,-0.8H0.8V0.8H-0.8Z"]},"legend":{"title":null,"orient":"none","legendX":65,"legendY":157,"symbolSize":100,"symbolStrokeWidth":2,"labelFontSize":10.6,"labelOffset":10,"labelColor":"#333333"}}
      }}
     ]}
   ]},
   {"width":302,"height":140,"data":{"values":[{}]},"mark":{"type":"rule","opacity":0},"encoding":{}},
   {"width":302,"height":37,"data":{"values":[{}]},"mark":{"type":"rule","color":"#F5A050","strokeWidth":1.2},"encoding":{"y":{"datum":0,"type":"quantitative","scale":{"domain":[0,1]},"axis":null}},"title":{"text":"资料来源：Wind，天风证券研究所","orient":"bottom","anchor":"start","offset":5,"fontSize":8.5,"fontWeight":"normal","color":"#7F7F7F"}}
  ]}
 ]},
 {"width":608,"height":234,"data":{"values":[{}]},"mark":{"type":"rule","opacity":0},"encoding":{}},
 {"spacing":0,"bounds":"flush","hconcat":[
  {"width":135,"height":36.6,"data":{"values":[{}]},"mark":{"type":"rule","opacity":0},"encoding":{}},
  {"width":473,"height":36.6,"data":{"name":"p2"},
   "encoding":{"y":{"field":"n","type":"ordinal","scale":{"domain":[1,2]},"axis":null},"x":{"datum":0,"type":"quantitative","scale":{"domain":[0,1]},"axis":null}},
   "layer":[
    {"data":{"name":"p2b"},"mark":{"type":"text","align":"left","fontWeight":"bold","fontSize":12,"color":"#111111"},"encoding":{"text":{"field":"t"}}},
    {"transform":[{"filter":"datum.n===1"}],"mark":{"type":"text","align":"left","dx":70,"fontSize":12,"color":"#333333"},"encoding":{"text":{"field":"t"}}},
    {"transform":[{"filter":"datum.n>1"}],"mark":{"type":"text","align":"left","fontSize":12,"color":"#333333"},"encoding":{"text":{"field":"t"}}}
   ]}
 ]},
 {"width":608,"height":36.6,"data":{"values":[{}]},"mark":{"type":"rule","opacity":0},"encoding":{}},
 {"spacing":0,"bounds":"flush","hconcat":[
  {"width":551,"height":16.4,"data":{"values":[{}]},"mark":{"type":"rule","color":"#F08300","strokeWidth":1.5},"encoding":{"y":{"datum":0,"type":"quantitative","scale":{"domain":[0,1]},"axis":null}},"title":{"text":"请务必阅读正文之后的信息披露和免责申明","orient":"bottom","anchor":"start","offset":5,"dx":33,"fontSize":11,"fontWeight":"normal","color":"#404040"}},
  {"width":57,"height":16.4,"data":{"values":[{}]},"mark":{"type":"rule","color":"#F08300","strokeWidth":1.5},"encoding":{"y":{"datum":0,"type":"quantitative","scale":{"domain":[0,1]},"axis":null}},"title":{"text":"3","orient":"bottom","anchor":"end","offset":5,"dx":-3,"fontSize":11,"fontWeight":"normal","color":"#404040"}}
 ]}
]}
]
}
